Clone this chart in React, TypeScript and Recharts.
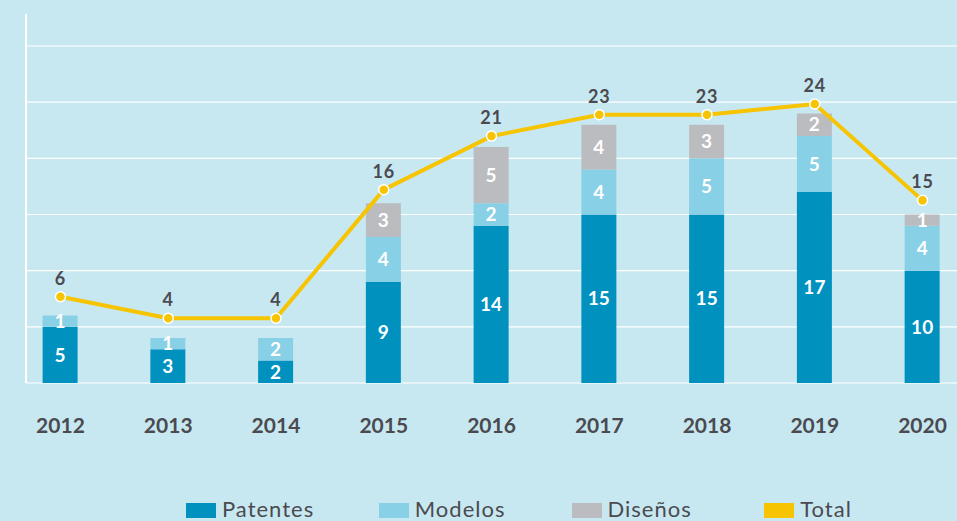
import React from 'react';
import { ComposedChart, Bar, Line, XAxis, YAxis, CartesianGrid, LabelList, Legend } from 'recharts';

const years = ['2012', '2013', '2014', '2015', '2016', '2017', '2018', '2019', '2020'];
const patentes = [5, 3, 2, 9, 14, 15, 15, 17, 10];
const modelos = [1, 1, 2, 4, 2, 4, 5, 5, 4];
const disenos = [0, 0, 0, 3, 5, 4, 3, 2, 1];
const totals = [6, 4, 4, 16, 21, 23, 23, 24, 15];
const gridTicks = [0, 5, 10, 15, 20, 25, 30];
const legendOrder = ['Patentes', 'Modelos', 'Diseños', 'Total'];

const C_PAT = '#0091bf';
const C_MOD = '#88d0e5';
const C_DIS = '#bbbcc0';
const C_TOT = '#f6c400';
const BG = '#c8e8f1';
const TXT = '#4a4a50';
const FONT = 'Lato, "Open Sans", sans-serif';

const data = years.map((y, i) => ({
  year: y,
  patentes: patentes[i],
  modelos: modelos[i],
  disenos: disenos[i] ? disenos[i] : null,
  total: totals[i],
}));

const hideEmpty = (v: any) => (v ? v : '');

const LegendContent = (props: any) => {
  const payload = [...(props.payload || [])].sort(
    (a: any, b: any) => legendOrder.indexOf(a.value) - legendOrder.indexOf(b.value)
  );
  return (
    <div style={{ display: 'flex', fontFamily: FONT }}>
      {payload.map((p: any) => (
        <div key={p.value} style={{ width: 200, display: 'flex', alignItems: 'flex-start' }}>
          <span style={{ display: 'inline-block', width: 30, height: 15, marginTop: 4, background: p.color, marginRight: 6 }} />
          <span style={{ fontSize: 22, lineHeight: '20px', color: TXT, letterSpacing: 1 }}>{p.value}</span>
        </div>
      ))}
    </div>
  );
};

const EmptyTick = () => <g />;

export default function App() {
  return (
    <div style={{ position: 'absolute', left: 0, top: 0, width: 957, height: 521, background: BG, overflow: 'hidden' }}>
      <ComposedChart
        width={957}
        height={521}
        data={data}
        margin={{ top: 14, right: 0, bottom: 78, left: 0 }}
      >
        <CartesianGrid
          vertical={false}
          stroke="#ffffff"
          strokeWidth={1.2}
          yAxisId="bar"
          horizontalValues={gridTicks}
          syncWithTicks
        />
        <XAxis
          dataKey="year"
          axisLine={false}
          tickLine={false}
          tickSize={0}
          tickMargin={35}
          interval={0}
          height={60}
          padding={{ left: -19.4, right: -19.4 }}
          tick={{ fill: TXT, fontSize: 21, fontWeight: 700, fontFamily: FONT }}
        />
        <YAxis
          yAxisId="bar"
          width={26}
          domain={[0, 32.85]}
          ticks={gridTicks}
          allowDataOverflow
          tick={<EmptyTick />}
          tickLine={false}
          axisLine={{ stroke: '#ffffff', strokeWidth: 2 }}
        />
        <YAxis yAxisId="line" orientation="right" hide domain={[-2.05, 32.4]} allowDataOverflow />
        <Bar dataKey="patentes" name="Patentes" stackId="a" yAxisId="bar" fill={C_PAT} barSize={35} isAnimationActive={false}>
          <LabelList dataKey="patentes" position="center" fill="#ffffff" fontSize={19} fontWeight={700} fontFamily={FONT} formatter={hideEmpty} />
        </Bar>
        <Bar dataKey="modelos" name="Modelos" stackId="a" yAxisId="bar" fill={C_MOD} barSize={35} isAnimationActive={false}>
          <LabelList dataKey="modelos" position="center" fill="#ffffff" fontSize={19} fontWeight={700} fontFamily={FONT} formatter={hideEmpty} />
        </Bar>
        <Bar dataKey="disenos" name="Diseños" stackId="a" yAxisId="bar" fill={C_DIS} barSize={35} isAnimationActive={false}>
          <LabelList dataKey="disenos" position="center" fill="#ffffff" fontSize={19} fontWeight={700} fontFamily={FONT} formatter={hideEmpty} />
        </Bar>
        <Line
          dataKey="total"
          name="Total"
          yAxisId="line"
          type="linear"
          stroke={C_TOT}
          strokeWidth={4}
          dot={{ r: 5, fill: C_TOT, stroke: '#ffffff', strokeWidth: 1.5 }}
          activeDot={false}
          isAnimationActive={false}
        >
          <LabelList dataKey="total" position="top" offset={12} fill={TXT} fontSize={18} fontWeight={700} fontFamily={FONT} letterSpacing={0.8} />
        </Line>
        <Legend
          layout="horizontal"
          verticalAlign="middle"
          align="center"
          wrapperStyle={{ left: 186, top: 499, width: 771, height: 21 }}
          content={<LegendContent />}
        />
      </ComposedChart>
    </div>
  );
}
